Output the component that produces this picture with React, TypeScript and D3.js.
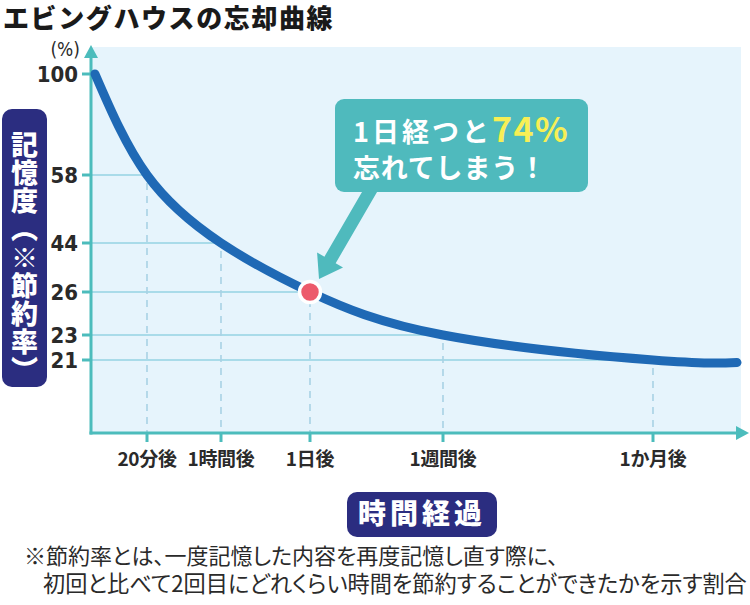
import React from "react";
import * as d3 from "d3";

const title = "エビングハウスの忘却曲線";
const timeLabels = ["20分後", "1時間後", "1日後", "1週間後", "1か月後"];
const labelMinutes = [20, 60, 1440, 10080, 43200];
const minutesElapsed = [0, 20, 60, 1440, 10080, 43200, 64800];
const retention = [100, 58, 44, 26, 23, 21, 20.8];
const yTicks = [100, 58, 44, 26, 23, 21];
const yAxisTitle = "記憶度（※節約率）";
const calloutLine1 = "1日経つと";
const calloutHighlight = "74%";
const calloutLine2 = "忘れてしまう！";
const xAxisTitle = "時間経過";
const footnote1 = "※節約率とは、一度記憶した内容を再度記憶し直す際に、";
const footnote2 = "初回と比べて2回目にどれくらい時間を節約することができたかを示す割合";

const JP = "'Noto Sans CJK JP', 'Noto Sans', sans-serif";
const NUM = "'Liberation Sans Narrow', 'DejaVu Sans Condensed', Roboto, sans-serif";

export default function App() {
  const W = 750, H = 605;
  const axisX = 91, axisY = 433;
  const x = d3.scaleLinear().domain(minutesElapsed).range([95, 147, 221, 310, 443, 653, 737]);
  const y = d3.scaleLinear().domain([21, 23, 26, 44, 58, 100]).range([360, 335, 292, 243, 175, 74]);

  const pts: [number, number][] = minutesElapsed.map((m, i) => [m, retention[i]]);
  const line = d3.line<[number, number]>().x(d => x(d[0])).y(d => y(d[1])).curve(d3.curveNatural);

  const teal = "#4cbcbc";
  const grid = "#a9dbe9";
  const navy = "#2b2d80";

  // callout arrow
  const dot: [number, number] = [x(1440), y(26)];
  const tip: [number, number] = [dot[0] + 9, dot[1] - 13];
  const start: [number, number] = [373, 186];
  const dx = tip[0] - start[0], dy = tip[1] - start[1];
  const len = Math.hypot(dx, dy);
  const ux = dx / len, uy = dy / len;
  const nx = -uy, ny = ux;
  const headLen = 22, headHalf = 15, shaftHalf = 6.5;
  const bx = tip[0] - ux * headLen, by = tip[1] - uy * headLen;
  const arrowPts = [
    [start[0] + nx * shaftHalf, start[1] + ny * shaftHalf],
    [bx + nx * shaftHalf, by + ny * shaftHalf],
    [bx + nx * headHalf, by + ny * headHalf],
    tip,
    [bx - nx * headHalf, by - ny * headHalf],
    [bx - nx * shaftHalf, by - ny * shaftHalf],
    [start[0] - nx * shaftHalf, start[1] - ny * shaftHalf],
  ].map(p => p.join(",")).join(" ");

  const valAt = (m: number) => retention[minutesElapsed.indexOf(m)];
  const palt = { fontFeatureSettings: "'palt' 1" };

  return (
    <svg width={W} height={H} viewBox={`0 0 ${W} ${H}`} style={{ display: "block", position: "absolute", left: 0, top: 0, background: "#fff" }}>
      {/* title */}
      <text x={3} y={28} fontFamily={JP} fontWeight={800} fontSize={26} letterSpacing={1.6} fill="#1a1a1a">{title}</text>

      {/* plot background */}
      <rect x={axisX} y={47} width={741 - axisX} height={axisY - 47} fill="#e6f4fc" />

      {/* horizontal guide lines */}
      {labelMinutes.map((m, i) => (
        <line key={"h" + i} x1={axisX} x2={x(m)} y1={y(valAt(m))} y2={y(valAt(m))} stroke={grid} strokeWidth={1.8} />
      ))}
      {/* vertical dashed lines */}
      {labelMinutes.map((m, i) => (
        <line key={"v" + i} x1={x(m)} x2={x(m)} y1={y(valAt(m)) + 8} y2={axisY} stroke="#a9d2e4" strokeWidth={1.6} strokeDasharray="7,6" />
      ))}

      {/* axes */}
      <line x1={axisX} x2={axisX} y1={axisY + 1.5} y2={56} stroke={teal} strokeWidth={3} />
      <polygon points={`${axisX},45 ${axisX - 7},58 ${axisX + 7},58`} fill={teal} />
      <line x1={axisX - 1.5} x2={738} y1={axisY} y2={axisY} stroke={teal} strokeWidth={3} />
      <polygon points={`749,${axisY} 736,${axisY - 7} 736,${axisY + 7}`} fill={teal} />

      {/* y ticks */}
      {yTicks.map((t, i) => (
        <g key={"yt" + i}>
          <line x1={82} x2={axisX} y1={y(t)} y2={y(t)} stroke={teal} strokeWidth={3} />
          <text x={78} y={y(t)} dy="0.36em" textAnchor="end" fontFamily={NUM} fontWeight={700} fontSize={22} fill="#2a2a2a">{t}</text>
        </g>
      ))}
      <text x={80} y={56} textAnchor="end" fontFamily={NUM} fontSize={19} fill="#2a2a2a">(%)</text>

      {/* x ticks */}
      {labelMinutes.map((m, i) => (
        <g key={"xt" + i}>
          <line x1={x(m)} x2={x(m)} y1={axisY} y2={axisY + 9} stroke={teal} strokeWidth={3} />
          <text x={x(m)} y={466} textAnchor="middle" fontFamily={JP} fontWeight={700} fontSize={19} letterSpacing={-0.3} fill="#2a2a2a">{timeLabels[i]}</text>
        </g>
      ))}

      {/* curve */}
      <path d={line(pts) || ""} fill="none" stroke="#1f69b5" strokeWidth={9} strokeLinecap="round" />
      <circle cx={dot[0]} cy={dot[1]} r={10.5} fill="#ec5a6b" stroke="#fff" strokeWidth={3.5} />

      {/* callout */}
      <polygon points={arrowPts} fill="#4fbabd" />
      <rect x={335} y={99} width={253} height={93} rx={9} fill="#4fbabd" />
      <text x={353} y={142} fontFamily={JP} fontWeight={700} fontSize={27} letterSpacing={3} fill="#fff">
        {calloutLine1}
        <tspan fill="#f7ef55" fontSize={34} letterSpacing={1.5}>{calloutHighlight}</tspan>
      </text>
      <text x={353} y={178} fontFamily={JP} fontWeight={700} fontSize={27} letterSpacing={0.8} fill="#fff">{calloutLine2}</text>

      {/* y axis title */}
      <rect x={2} y={109} width={45} height={278} rx={10} fill={navy} />
      <text x={24.5} y={131} fontFamily={JP} fontWeight={800} fontSize={27} letterSpacing={1.2} fill="#fff"
        style={{ writingMode: "vertical-rl" as any }}>{yAxisTitle}</text>

      {/* x axis title */}
      <rect x={347} y={492} width={150} height={45} rx={10} fill={navy} />
      <text x={422} y={524} textAnchor="middle" fontFamily={JP} fontWeight={800} fontSize={28} letterSpacing={4} fill="#fff">{xAxisTitle}</text>

      {/* footnote */}
      <text x={24} y={564} fontFamily={JP} fontSize={22} fill="#2a2a2a" style={palt}>{footnote1}</text>
      <text x={43} y={592} fontFamily={JP} fontSize={22.2} fill="#2a2a2a" style={palt}>{footnote2}</text>
    </svg>
  );
}
